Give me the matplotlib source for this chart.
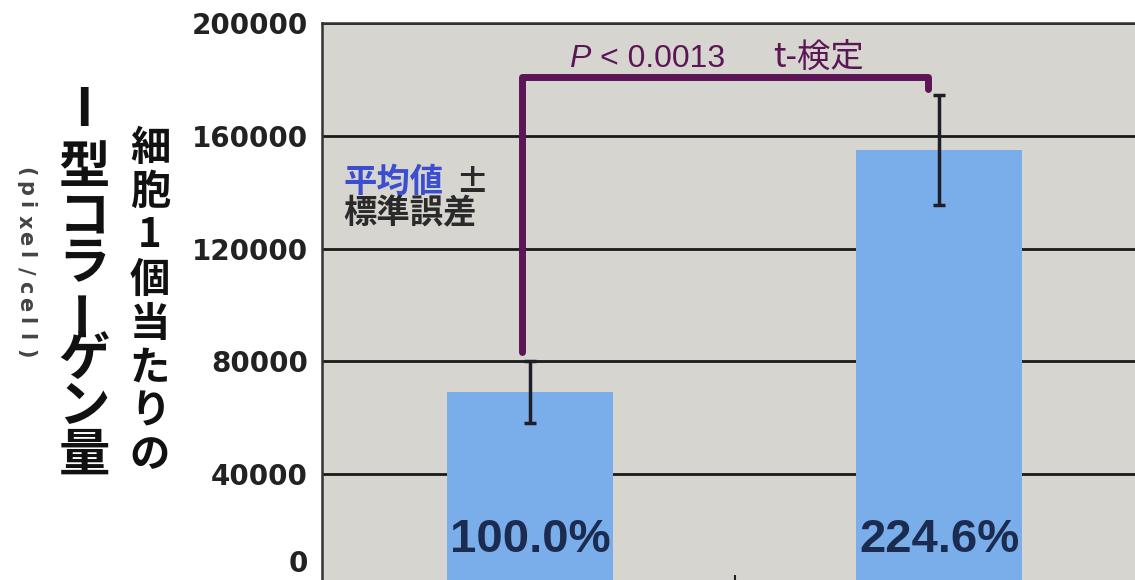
import matplotlib

matplotlib.use("Agg")
import matplotlib.pyplot as plt
from matplotlib.transforms import ScaledTranslation


# data
groups = ["control", "treated"]
means = [69000, 155000]
errors = [11000, 19500]
percent_labels = ["100.0%", "224.6%"]
y_ticks = [0, 40000, 80000, 120000, 160000, 200000]

BAR_COLOR = "#7aaeea"
AXES_BG = "#d7d5cf"
PURPLE = "#5c1656"
W, H = 1135, 580

plt.rcParams["font.family"] = ["Noto Sans CJK JP", "DejaVu Sans"]


def vertical_column(fig, chars, x_px, y_px, size, **kw):
    # 縦書き: 1文字ずつ置く、長音符は回転
    for ch, y in zip(chars, y_px):
        rotation = 90 if ch == "ー" else 0
        fig.text(
            x_px / W,
            1 - y / H,
            ch,
            ha="center",
            va="center",
            rotation=rotation,
            fontsize=size,
            **kw,
        )


fig = plt.figure(figsize=(W / 100, H / 100), dpi=100)
ax = fig.add_axes([322 / W, (H - 587) / H, 0.72, 564 / H])
ax.set_facecolor(AXES_BG)

x = list(range(len(groups)))
ax.bar(x, means, width=0.405, color=BAR_COLOR, zorder=2)
ax.errorbar(
    x,
    means,
    yerr=errors,
    fmt="none",
    ecolor="#1e1e2a",
    elinewidth=2.5,
    capsize=4,
    capthick=2.5,
    zorder=3,
)

ax.set_xlim(-0.509, 1.489)
ax.set_ylim(0, 200000)
ax.set_yticks(y_ticks)
ax.set_yticklabels([str(v) for v in y_ticks], fontsize=20, fontweight="bold",
                   color="#222222", family="DejaVu Sans")
ax.tick_params(axis="y", length=0, pad=10)
# 0 のラベルは下端で切れるので少し上げる
zero_label = ax.get_yticklabels()[0]
zero_label.set_transform(
    zero_label.get_transform() + ScaledTranslation(0, 19 / 72, fig.dpi_scale_trans)
)
ax.set_xticks([0.5])
ax.set_xticklabels([""])
ax.tick_params(axis="x", direction="in", length=9, width=1.5, color="#222222")
ax.grid(axis="y", color="#1a1a1a", linewidth=2, zorder=1)
ax.set_axisbelow(True)
for side in ["left", "top", "bottom"]:
    ax.spines[side].set_color("#333333")
    ax.spines[side].set_linewidth(1.8)
ax.spines["right"].set_visible(False)

# 割合ラベル
for xi, label in zip(x, percent_labels):
    ax.text(xi, 16500, label, ha="center", va="center", fontsize=34,
            fontweight="bold", color="#1c2c50", family="Liberation Sans", zorder=4)

# 有意差ブラケット
top = 181000
left_y = means[0] + errors[0] + 3500
right_y = means[1] + errors[1] + 2000
ax.plot(
    [x[0] - 0.02, x[0] - 0.02, x[1] - 0.027, x[1] - 0.027],
    [left_y, top, top, right_y],
    color=PURPLE,
    linewidth=5,
    solid_joinstyle="round",
    solid_capstyle="round",
    zorder=4,
)
ax.text(0.096, 184500, "P", fontsize=23, style="italic", color=PURPLE,
        family="Liberation Sans", va="baseline")
ax.text(0.17, 184500, "< 0.0013", fontsize=23, color=PURPLE,
        family="Liberation Sans", va="baseline")
ax.text(0.595, 184500, "t-検定", fontsize=24, color=PURPLE, va="baseline")

# 凡例代わりの注記
fig.text(343 / W, 1 - 182 / H, "平均値", fontsize=24, fontweight="bold",
         color="#3c4ed0", va="center")
fig.text(455 / W, 1 - 182 / H, "±", fontsize=24, fontweight="bold",
         color="#2a2a2a", va="center")
fig.text(343 / W, 1 - 214 / H, "標準誤差", fontsize=24, fontweight="bold",
         color="#2a2a2a", va="center")

# 縦書きの軸ラベル
big_chars = "Ⅰ型コラーゲン量"
big_y = [110] + [168 + i * 47.8 for i in range(7)]
vertical_column(fig, big_chars, 84, big_y, 37, fontweight="bold", color="#111111")

small_chars = "細胞1個当たりの"
small_y = [148 + i * 44 for i in range(8)]
vertical_column(fig, small_chars, 150, small_y, 29, fontweight="bold", color="#111111")

unit_chars = "(pixel/cell)"
unit_y = [172 + i * 16.5 for i in range(len(unit_chars))]
for ch, y in zip(unit_chars, unit_y):
    fig.text(25 / W, 1 - y / H, ch, ha="center", va="center", rotation=-90,
             fontsize=15, fontweight="bold", color="#444444", family="DejaVu Sans")

fig.savefig("out.png", dpi=100)
plt.close(fig)
